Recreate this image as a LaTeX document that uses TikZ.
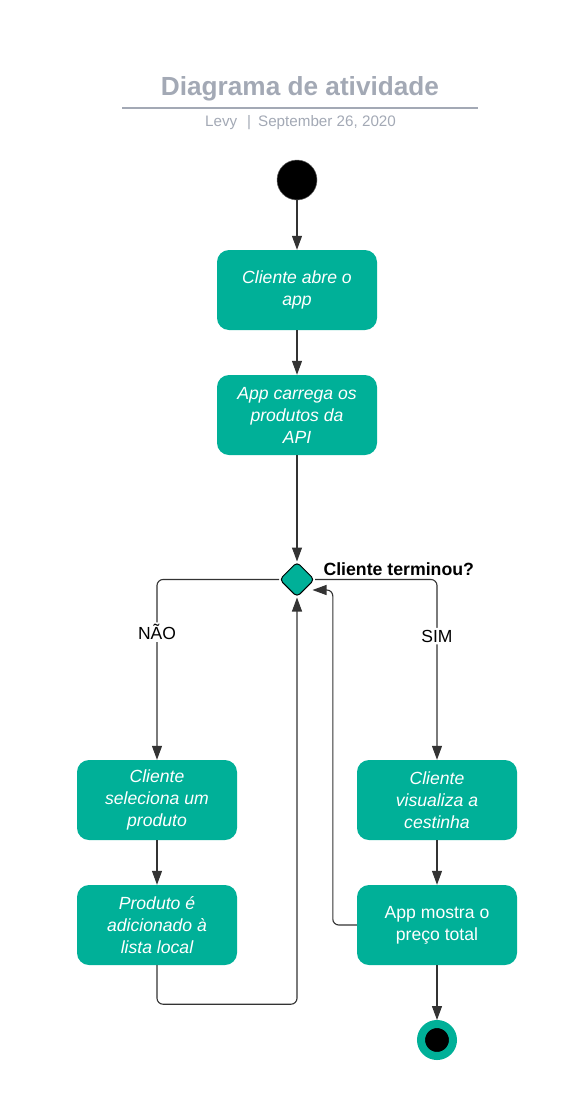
\documentclass[tikz,border=0pt]{standalone}
\usepackage{fontspec}
\setmainfont{Liberation Sans}
\usetikzlibrary{arrows.meta,shapes.geometric,calc}
\definecolor{tealfill}{HTML}{00B098}
\definecolor{titlegray}{HTML}{A3A9B5}
\definecolor{linegray}{HTML}{333333}
\begin{document}
\begin{tikzpicture}[x=1pt,y=1pt,
  act/.style={fill=tealfill,rounded corners=12pt,minimum width=160pt,minimum height=80pt,inner sep=0pt,align=center,text=white,font=\fontsize{17.6}{22}\selectfont\itshape},
  actup/.style={act,font=\fontsize{17.6}{22}\selectfont},
  flow/.style={draw=linegray,line width=1.1pt,-{Triangle[length=14pt,width=10pt]}},
  guard/.style={fill=white,inner sep=2pt,font=\fontsize{17.5}{20}\selectfont,text=black},
  decision/.style={diamond,fill=tealfill,draw=black,line width=1pt,minimum width=35pt,minimum height=35pt,inner sep=0pt,rounded corners=4pt},
  startnode/.style={circle,fill=black,draw=black!60,line width=0.5pt,minimum size=40pt,inner sep=0pt},
  endnode/.style={circle,fill=black,draw=tealfill,line width=8pt,minimum size=32pt,inner sep=0pt}]
\useasboundingbox (0,0) rectangle (561,-1100);
% title
\node[font=\fontsize{26.2}{30}\selectfont\bfseries,text=titlegray] (title) at (300,-89) {Diagrama de atividade};
\draw[titlegray,line width=2pt] (122,-108) -- (478,-108);
\node[font=\fontsize{15.2}{18}\selectfont,text=titlegray] (sub) at (300.5,-123) {Levy\hspace{10pt}|\hspace{7pt}September 26, 2020};
% nodes
\node[startnode] (start) at (297,-180) {};
\node[act] (b1) at (297,-290) {Cliente abre o\\app};
\node[act] (b2) at (297,-415) {App carrega os\\produtos da\\API};
\node[decision] (dec) at (297,-579.5) {};
\node[anchor=west,font=\fontsize{17.7}{20}\selectfont\bfseries] (q) at (320,-569) {Cliente terminou?};
\node[act] (b3) at (157,-800) {Cliente\\seleciona um\\produto};
\node[act] (b4) at (437,-800) {Cliente\\visualiza a\\cestinha};
\node[act] (b5) at (157,-925) {Produto é\\adicionado à\\lista local};
\node[actup] (b6) at (437,-925) {App mostra o\\preço total};
\node[endnode] (end) at (437,-1040) {};
\coordinate (decin) at ($(dec.center)+(15.5,-10.5)$);
% connectors
\draw[flow] (start) -- (b1);
\draw[flow] (b1) -- (b2);
\draw[flow] (b2) -- (dec);
\draw[flow,rounded corners=6pt] (dec.west) -| node[guard,pos=0.646] (no) {NÃO} (b3.north);
\draw[flow,rounded corners=6pt] (dec.east) -| node[guard,pos=0.657] (yes) {SIM} (b4.north);
\draw[flow] (b3) -- (b5);
\draw[flow] (b4) -- (b6);
\draw[flow,rounded corners=6pt] (b5.south) -- ++(0,-39) -| (dec.south);
\draw[flow,rounded corners=6pt] (b6.west) -- ++(-24,0) |- (decin);
\draw[flow] (b6) -- (end);
\end{tikzpicture}
\end{document}
